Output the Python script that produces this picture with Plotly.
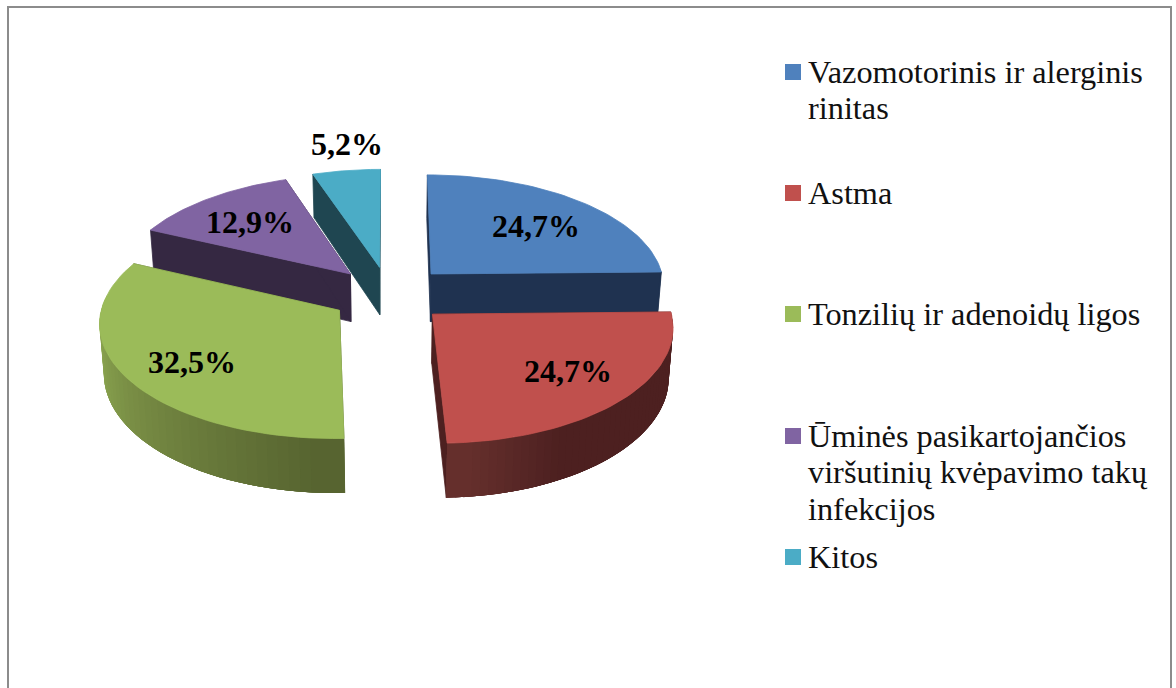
import math
import plotly.graph_objects as go

# ---- data ----
categories = ["Vazomotorinis ir alerginis\nrinitas", "Astma", "Tonzilių ir adenoidų ligos",
              "Ūminės pasikartojančios\nviršutinių kvėpavimo takų\ninfekcijos", "Kitos"]
values = [24.7, 24.7, 32.5, 12.9, 5.2]
explode = [0.26, 0.25, 0.25, 0.25, 0.25]
top_colors = ["#4F81BD", "#C0504D", "#9BBB59", "#8064A2", "#4BACC6"]
wall_colors = ["#1F3250", "#4D2020", "#566330", "#352842", "#1F4651"]
arc_light = ["#1F3250", "#66302D", "#96B257", "#352842", "#1F4651"]
draw_order = [4, 3, 0, 2, 1]

# ---- projection of the tilted disc onto the canvas ----
CX, CY, RX, RY, K, DEPTH, SHRINK = 389, 294.5, 235, 112.5, 0.097, 48.5, 0.985


def project(X, Y, low=False):
    s = 1 / (1 + K * Y)
    x, y = CX + RX * X * s, CY - RY * Y * s
    if low:
        x, y = CX + (x - CX) * SHRINK, y + DEPTH * s
    return x, y


def mix(a, b, t):
    ca = [int(a[i:i + 2], 16) for i in (1, 3, 5)]
    cb = [int(b[i:i + 2], 16) for i in (1, 3, 5)]
    return "rgb(" + ",".join(str(round(p + (q - p) * t)) for p, q in zip(ca, cb)) + ")"


def poly(fig, pts, color, width=0.8):
    fig.add_trace(go.Scatter(x=[p[0] for p in pts] + [pts[0][0]], y=[p[1] for p in pts] + [pts[0][1]],
                             mode="lines", fill="toself", fillcolor=color,
                             line=dict(color=color, width=width), hoverinfo="skip", showlegend=False))


fig = go.Figure()

# slice angles come from the values
total = sum(values)
starts, cum = [], 0.0
for v in values:
    starts.append(cum / total * 2 * math.pi)
    cum += v

for i in draw_order:
    a0 = starts[i]
    a1 = a0 + values[i] / total * 2 * math.pi
    bis = (a0 + a1) / 2
    ox, oy = explode[i] * math.sin(bis), explode[i] * math.cos(bis)
    n = 48
    angles = [a0 + (a1 - a0) * j / n for j in range(n + 1)]
    rim = [(ox + math.sin(a), oy + math.cos(a)) for a in angles]
    # radial walls
    for end in (rim[0], rim[-1]):
        poly(fig, [project(ox, oy), project(*end), project(*end, low=True), project(ox, oy, low=True)], wall_colors[i])
    # outer wall, shaded in overlapping bands so no seams show
    steps = [j for j in range(n) if math.cos((angles[j] + angles[j + 1]) / 2) <= 0.05]
    if i == 2:
        steps = steps[::-1]  # each band is overlapped by the next one
    for j in steps:
        deg = math.degrees((angles[j] + angles[j + 1]) / 2)
        if i == 1:      # red: light near the bottom edge
            col = mix(arc_light[i], wall_colors[i], min(1, max(0, (177.8 - deg) / 22)))
        elif i == 2:    # green: dark near the bottom edge, light toward the left
            col = mix(wall_colors[i], arc_light[i], min(1, max(0, (deg - 178) / 95)))
        else:
            col = wall_colors[i]
        lo, hi = max(j - 2, steps[0] if i != 2 else 0), min(j + 3, n)
        band = rim[lo:hi + 1]
        poly(fig, [project(*p) for p in band] + [project(*p, low=True) for p in band[::-1]], col, width=0)
    # top face
    poly(fig, [project(ox, oy)] + [project(*p) for p in rim], top_colors[i])

# ---- frame ----
fig.add_trace(go.Scatter(x=[8, 8, 1171, 1171], y=[700, 7, 7, 700], mode="lines",
                         line=dict(color="#8C8C8C", width=2), hoverinfo="skip", showlegend=False))

# ---- data labels ----
label_xy = [(536, 226), (568, 371), (192, 362), (250, 222), (347, 144)]
for v, (x, y) in zip(values, label_xy):
    fig.add_annotation(x=x, y=y, text="<b>" + f"{v:.1f}".replace(".", ",") + "%</b>", showarrow=False,
                       xanchor="center", yanchor="middle",
                       font=dict(family="Liberation Serif", size=32, color="black"))

# ---- legend ----
legend_y = [72, 193, 314, 436, 557]
fig.add_trace(go.Scatter(x=[793] * 5, y=legend_y, mode="markers", hoverinfo="skip", showlegend=False,
                         marker=dict(symbol="square", size=16, color=top_colors, line=dict(width=0))))
for name, y0 in zip(categories, legend_y):
    for k, line in enumerate(name.split("\n")):
        fig.add_annotation(x=805.5, y=y0 - 0.5 + 36.5 * k, text=line, showarrow=False, xanchor="left", yanchor="middle",
                           font=dict(family="Liberation Serif", size=32.3, color="#111111"))

fig.update_layout(width=1176, height=688, margin=dict(l=0, r=0, t=0, b=0),
                  paper_bgcolor="white", plot_bgcolor="white", showlegend=False,
                  xaxis=dict(range=[0, 1176], visible=False, fixedrange=True),
                  yaxis=dict(range=[688, 0], visible=False, fixedrange=True))
fig.write_html("out.html", config={"displayModeBar": False},
               post_script="document.body.style.margin='0';document.body.style.overflow='hidden';")
